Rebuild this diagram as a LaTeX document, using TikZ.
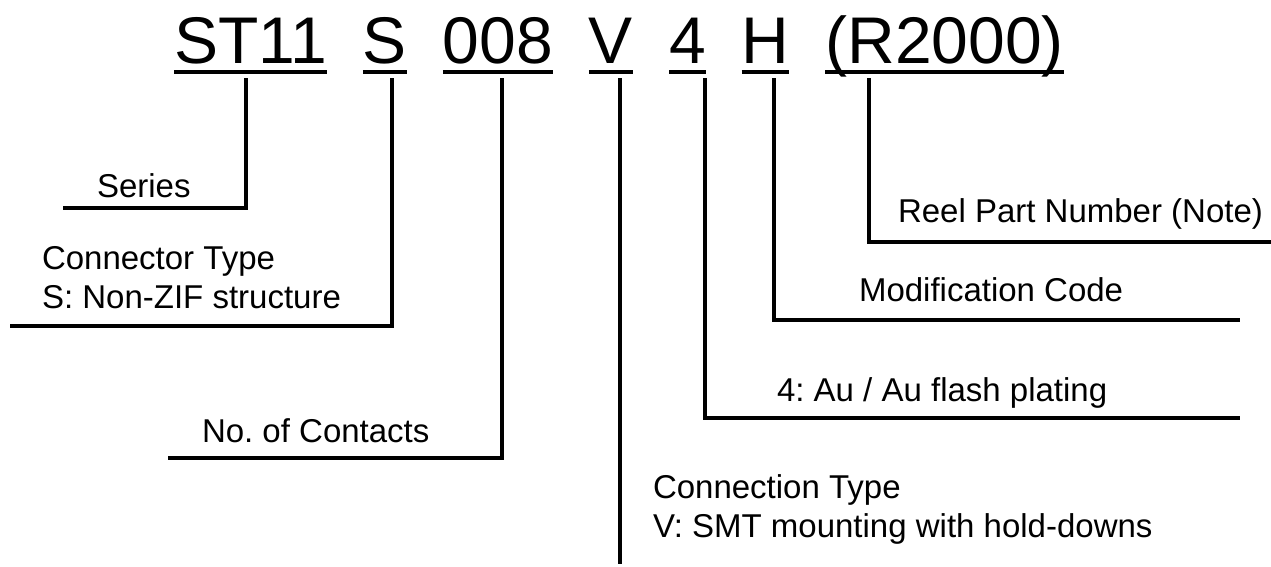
\documentclass[tikz,border=0pt]{standalone}
\usepackage{fontspec}
\setmainfont{Liberation Sans}
\frenchspacing
\usetikzlibrary{positioning}
\tikzset{%
  code/.style={inner sep=0pt, outer sep=0pt, font=\fontsize{66}{70}\selectfont},
  note/.style={inner sep=0pt, outer sep=0pt, align=left, font=\fontsize{33}{39}\selectfont},
  uline/.style={draw, line width=4pt},
  leader/.style={draw, line width=3.2pt},
}
\newcommand{\callout}[2]{%
  \path [leader] (#1) |- (#2);}

\begin{document}
\begin{tikzpicture}[x=1pt, y=-1pt, node distance=36pt]
  \useasboundingbox (0,0) rectangle (1271,566);

  % part number
  \node (st) [code, anchor=base west] at (174,63) {ST11};
  \node (sc) [code, base right=of st] {S};
  \node (nc) [code, base right=of sc] {008};
  \node (ct) [code, base right=of nc] {V};
  \node (pl) [code, base right=of ct] {4};
  \node (mc) [code, base right=of pl] {H};
  \node (rp) [code, base right=of mc] {(R2000)};
  \foreach \w in {st,sc,nc,ct,pl,mc,rp}
    \path [uline] ([yshift=-9pt]\w.base west) -- ([yshift=-9pt]\w.base east);

  % descriptions
  \node (series) [note, anchor=base west] at (97,197) {Series};
  \node (ctype) [note, anchor=north west] at (42,246) {Connector Type\\S: Non-ZIF structure};
  \node (contacts) [note, anchor=base west] at (202,442) {No. of Contacts};
  \node (cntype) [note, anchor=north west] at (653,475) {Connection Type\\V: SMT mounting with hold-downs};
  \node (plating) [note, anchor=base west] at (777,401) {4: Au / Au flash plating};
  \node (modcode) [note, anchor=base west] at (859,301) {Modification Code};
  \node (reel) [note, anchor=base west] at (898,222) {Reel Part Number (Note)};

  % leader ends
  \coordinate (st-t) at (246,78);   \coordinate (series-e) at (63,208);
  \coordinate (sc-t) at (392,78);   \coordinate (ctype-e) at (10,326);
  \coordinate (nc-t) at (502,78);   \coordinate (contacts-e) at (168,458);
  \coordinate (ct-t) at (620,78);   \coordinate (cntype-e) at (620,564);
  \coordinate (pl-t) at (705,78);   \coordinate (plating-e) at (1240,418);
  \coordinate (mc-t) at (774,78);   \coordinate (modcode-e) at (1240,320);
  \coordinate (rp-t) at (869,78);   \coordinate (reel-e) at (1271,242);

  \callout{st-t}{series-e};
  \callout{sc-t}{ctype-e};
  \callout{nc-t}{contacts-e};
  \path [leader] (ct-t) -- (cntype-e);
  \callout{pl-t}{plating-e};
  \callout{mc-t}{modcode-e};
  \callout{rp-t}{reel-e};
\end{tikzpicture}
\end{document}
